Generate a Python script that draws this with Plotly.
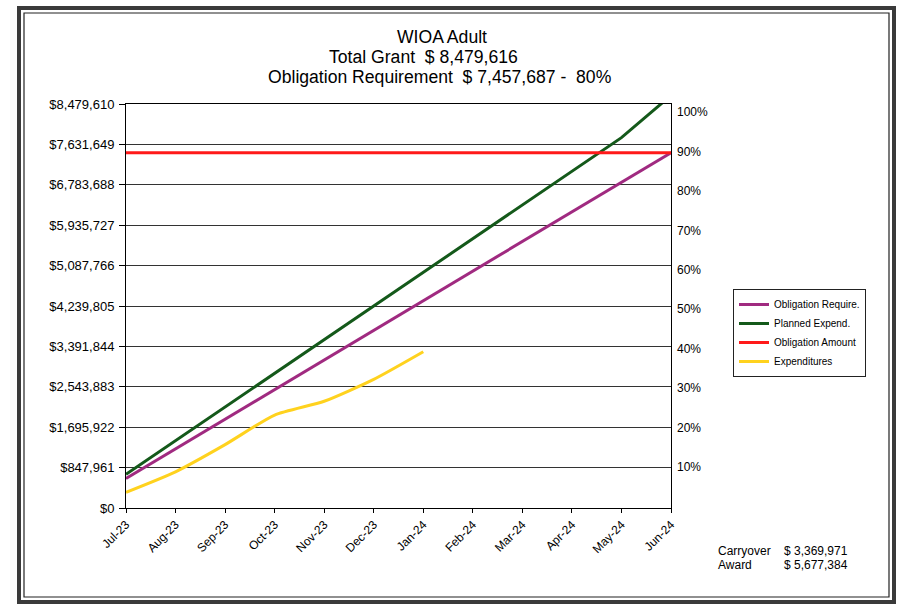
import plotly.graph_objects as go

months = ["Jul-23", "Aug-23", "Sep-23", "Oct-23", "Nov-23", "Dec-23",
          "Jan-24", "Feb-24", "Mar-24", "Apr-24", "May-24", "Jun-24"]
obligation_require = [621474, 1242948, 1864422, 2485896, 3107370, 3728844,
                      4350318, 4971792, 5593266, 6214740, 6836214, 7457687]
planned_expend = [706635, 1413269, 2119904, 2826539, 3533173, 4239808,
                  4946443, 5653077, 6359712, 7066347, 7772981, 8660000]
obligation_amount = [7457687, 7457687, 7457687, 7457687, 7457687, 7457687,
                     7457687, 7457687, 7457687, 7457687, 7457687, 7457687]
expenditures = [330000, 760000, 1330000, 1950000, 2240000, 2700000, 3280000]

left_tick_values = [0, 847961, 1695922, 2543883, 3391844, 4239805,
                    5087766, 5935727, 6783688, 7631649, 8479610]
left_tick_labels = ["$0", "$847,961", "$1,695,922", "$2,543,883", "$3,391,844",
                    "$4,239,805", "$5,087,766", "$5,935,727", "$6,783,688",
                    "$7,631,649", "$8,479,610"]
right_tick_values = [0.1, 0.2, 0.3, 0.4, 0.5, 0.6, 0.7, 0.8, 0.9, 1.0]
right_tick_labels = ["10%", "20%", "30%", "40%", "50%", "60%", "70%", "80%", "90%", "100%"]

title_lines = ["WIOA Adult",
               "Total Grant\u00a0\u00a0$ 8,479,616",
               "Obligation Requirement\u00a0\u00a0$ 7,457,687 -\u00a0\u00a080%"]

FONT = "Liberation Sans, Arial, sans-serif"
W, H = 898, 608
L, R, T, B = 126, 227, 104, 100
PW, PH = W - L - R, H - T - B


def px(x):
    return (x - L) / PW


def py(y):
    return (H - B - y) / PH


fig = go.Figure()
fig.add_trace(go.Scatter(x=months, y=obligation_require, name="Obligation Require.",
                         mode="lines", line=dict(color="#A02A80", width=3)))
fig.add_trace(go.Scatter(x=months, y=planned_expend, name="Planned Expend.",
                         mode="lines", line=dict(color="#14591A", width=3)))
fig.add_trace(go.Scatter(x=months, y=obligation_amount, name="Obligation Amount",
                         mode="lines", line=dict(color="#FF1A1A", width=3)))
fig.add_trace(go.Scatter(x=months[:len(expenditures)], y=expenditures, name="Expenditures",
                         mode="lines", line=dict(color="#FFD21E", width=3, shape="spline", smoothing=0.6)))
fig.add_trace(go.Scatter(x=[months[0]], y=[0.5], yaxis="y2", mode="markers",
                         marker=dict(opacity=0), showlegend=False, hoverinfo="skip"))

annotations = []
for txt, xx, yy in zip(title_lines, [442, 423, 440], [37.5, 57, 77]):
    annotations.append(dict(text=txt, x=px(xx), y=py(yy), xref="paper", yref="paper",
                            xanchor="center", yanchor="middle", showarrow=False,
                            font=dict(family=FONT, size=17.6, color="black")))
for txt, xx, yy in [("Carryover", 716, 551), ("Award", 716, 565),
                    ("$ 3,369,971", 782, 551), ("$ 5,677,384", 782, 565)]:
    annotations.append(dict(text=txt, x=px(xx), y=py(yy), xref="paper", yref="paper",
                            xanchor="left", yanchor="middle", showarrow=False,
                            font=dict(family=FONT, size=12, color="black")))

shapes = [
    dict(type="rect", xref="paper", yref="paper", x0=px(19), x1=px(894), y0=py(602), y1=py(8),
         line=dict(color="#3a3a3a", width=4)),
    dict(type="rect", xref="paper", yref="paper", x0=px(24), x1=px(889), y0=py(597), y1=py(13),
         line=dict(color="#222", width=1.2)),
]

fig.update_layout(
    width=W, height=H,
    margin=dict(l=L, r=R, t=T, b=B, pad=0),
    paper_bgcolor="white", plot_bgcolor="white",
    font=dict(family=FONT, color="black"),
    showlegend=True,
    legend=dict(x=px(733), y=py(289), xanchor="left", yanchor="top",
                bordercolor="#222", borderwidth=1, bgcolor="white",
                font=dict(family=FONT, size=10, color="black"),
                tracegroupgap=0, itemwidth=30),
    xaxis=dict(type="category", categoryarray=months, range=[0, 11],
               showline=True, linecolor="black", linewidth=1, mirror=True,
               ticks="outside", ticklen=4, tickcolor="black", tickangle=-45,
               tickfont=dict(size=12), showgrid=False, zeroline=False),
    yaxis=dict(range=[0, 8479610], tickvals=left_tick_values, ticktext=left_tick_labels,
               showline=True, linecolor="black", linewidth=1, mirror=True,
               ticks="outside", ticklen=6, tickcolor="black", tickfont=dict(size=13),
               ticklabelstandoff=2,
               showgrid=True, gridcolor="#333", gridwidth=1, zeroline=False),
    yaxis2=dict(overlaying="y", side="right", range=[-0.004, 1.0203],
                tickvals=right_tick_values, ticktext=right_tick_labels,
                showgrid=False, showline=False, zeroline=False, ticks="",
                ticklabelstandoff=5,
                tickfont=dict(size=12)),
    annotations=annotations,
    shapes=shapes,
)

fig.write_html("out.html", config={"displayModeBar": False},
               post_script="document.body.style.margin='0px';")
